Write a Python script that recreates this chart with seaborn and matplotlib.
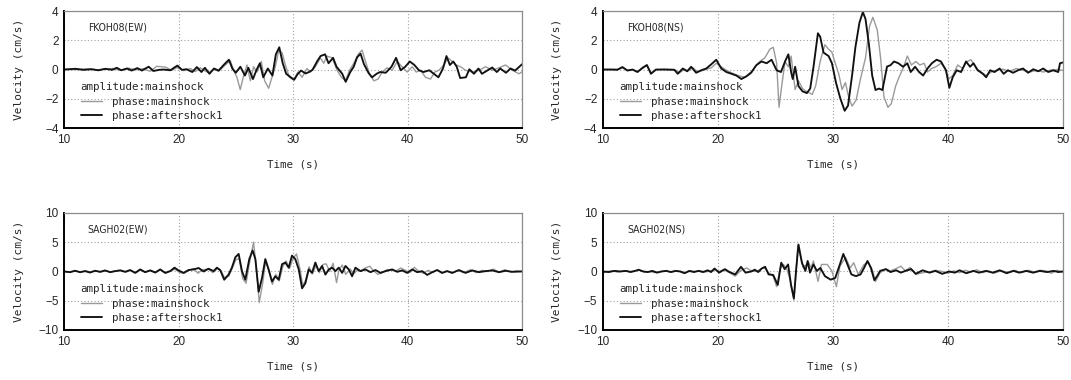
import matplotlib
matplotlib.use("Agg")
import matplotlib.pyplot as plt
from matplotlib.lines import Line2D
import pandas as pd
import seaborn as sns

# ---- FKOH08 (EW) ----
fk_ew_main_t = [10.0, 11.25, 12.13, 12.86, 13.59, 14.31, 14.9, 15.63, 16.21, 16.94,
                17.52, 18.1, 18.83, 19.42, 19.85, 20.44, 21.02, 21.46, 21.9, 22.27,
                22.62, 23.06, 23.5, 24.08, 24.52, 24.81, 25.1, 25.39, 25.69, 25.98,
                26.27, 26.56, 26.85, 27.23, 27.52, 27.87, 28.16, 28.45, 28.75, 29.04,
                29.33, 29.68, 30.06, 30.44, 30.79, 31.22, 31.52, 31.95, 32.39, 32.68,
                32.97, 33.41, 33.85, 34.23, 34.58, 34.93, 35.31, 35.69, 36.03, 36.33,
                36.68, 37.06, 37.43, 37.78, 38.22, 38.66, 39.1, 39.53, 39.97, 40.41,
                40.76, 41.14, 41.57, 42.01, 42.39, 42.74, 43.18, 43.53, 43.91, 44.26,
                44.64, 45.07, 45.66, 46.24, 46.82, 47.41, 47.99, 48.57, 49.15, 49.74,
                49.97]
fk_ew_main_v = [0, 0, 0.05, -0.02, 0.02, 0.07, -0.05, 0.1, -0.02, 0.05,
                -0.12, 0.22, 0.17, -0.05, 0.14, -0.07, 0.07, -0.14, 0.12, -0.07,
                -0.22, 0.02, -0.12, 0.31, 0.6, -0.05, -0.53, -1.37, -0.41, 0.31,
                -0.77, 0.19, -0.17, 0.55, -0.77, -1.28, -0.53, 0.19, 1.28, 1.16,
                0.31, -0.53, -0.7, -0.17, -0.53, 0.07, -0.17, 0.19, 0.8, 0.43,
                0.92, 0.8, -0.05, -0.53, -0.77, -0.05, 0.43, 1.04, 1.33, 0.55,
                -0.29, -0.77, -0.65, -0.17, 0.12, -0.05, 0.55, 0.19, -0.17, 0.19,
                -0.17, -0.05, -0.53, -0.65, -0.17, -0.05, 0.31, 0.8, 0.55, 0.31,
                0.19, -0.05, -0.17, -0.05, 0.19, -0.05, 0.12, 0.31, -0.05, -0.29,
                -0.17]
fk_ew_after_t = [10.0, 11.0, 11.7, 12.4, 13.0, 13.6, 14.2, 14.6, 15.0, 15.5,
                 15.9, 16.4, 16.8, 17.1, 17.4, 17.8, 18.3, 18.7, 19.3, 19.6,
                 19.9, 20.3, 20.7, 21.2, 21.6, 22.0, 22.3, 22.7, 23.1, 23.5,
                 24.0, 24.4, 24.7, 25.0, 25.4, 25.8, 26.1, 26.5, 26.8, 27.1,
                 27.4, 27.8, 28.2, 28.5, 28.8, 29.1, 29.4, 29.8, 30.1, 30.4,
                 30.7, 31.1, 31.4, 31.7, 32.1, 32.4, 32.8, 33.1, 33.5, 33.8,
                 34.3, 34.6, 35.0, 35.3, 35.6, 35.9, 36.2, 36.6, 36.9, 37.3,
                 37.6, 38.1, 38.6, 39.0, 39.4, 39.8, 40.2, 40.6, 41.0, 41.4,
                 41.9, 42.3, 42.7, 43.1, 43.4, 43.7, 44.0, 44.3, 44.6, 45.1,
                 45.4, 45.8, 46.2, 46.5, 47.0, 47.4, 47.8, 48.1, 48.6, 49.0,
                 49.4, 50.0]
fk_ew_after_v = [0, 0.05, -0.02, 0.02, -0.05, 0.05, -0.02, 0.12, -0.05, 0.07,
                 -0.07, 0.1, -0.07, 0.07, 0.19, -0.1, -0.02, 0, -0.05, 0.12,
                 0.27, -0.02, 0.02, -0.17, 0.17, -0.17, 0.12, -0.29, 0.07, -0.07,
                 0.36, 0.67, 0.07, -0.22, 0.19, -0.41, 0.12, -0.65, -0.05, 0.43,
                 -0.53, 0.07, -0.41, 1.04, 1.52, 0.43, -0.29, -0.53, -0.7, -0.31,
                 -0.07, -0.27, -0.17, -0.02, 0.55, 0.92, 1.04, 0.43, 0.8, 0.19,
                 -0.29, -0.84, -0.17, 0.19, 0.84, 1.08, 0.36, -0.24, -0.53, -0.29,
                 -0.17, -0.22, 0.19, 0.8, -0.05, 0.19, 0.55, 0.31, -0.05, -0.17,
                 -0.05, -0.29, -0.53, 0.07, 0.92, 0.31, 0.55, 0.19, -0.58, -0.53,
                 0.02, -0.29, 0.07, -0.29, -0.05, 0.14, -0.17, 0.07, -0.22, 0.07,
                 -0.07, 0.36]

# ---- FKOH08 (NS) ----
fk_ns_main_t = [10.0, 10.82, 11.25, 11.69, 12.13, 12.57, 13.0, 13.44, 13.82, 14.17,
                14.61, 15.34, 16.21, 16.65, 17.08, 17.38, 17.81, 18.25, 18.83, 19.42,
                19.85, 20.29, 20.73, 21.17, 21.75, 22.33, 22.86, 23.21, 23.64, 24.08,
                24.52, 24.81, 25.1, 25.31, 25.54, 25.83, 26.12, 26.36, 26.71, 27.0,
                27.35, 27.7, 28.2, 28.5, 28.9, 29.3, 29.6, 29.9, 30.2, 30.5,
                30.79, 31.08, 31.37, 31.66, 32.01, 32.39, 32.83, 33.18, 33.47, 33.85,
                34.14, 34.43, 34.78, 35.07, 35.45, 35.74, 36.09, 36.47, 36.82, 37.2,
                37.55, 37.93, 38.22, 38.57, 38.95, 39.39, 39.74, 40.06, 40.41, 40.85,
                41.28, 41.66, 42.01, 42.45, 42.89, 43.32, 43.76, 44.2, 44.78, 45.36,
                45.95, 46.53, 47.11, 47.7, 48.28, 48.86, 49.45, 49.97]
fk_ns_main_v = [0, 0, 0.02, 0.12, -0.05, -0.02, -0.12, 0.07, 0.27, -0.24,
                -0.02, 0.02, 0, -0.22, 0.02, -0.1, 0.12, -0.17, -0.02, 0.12,
                0.43, 0.19, -0.05, -0.22, -0.41, -0.53, -0.29, 0.19, 0.55, 0.8,
                1.4, 1.52, 0.43, -2.58, -1.13, 0.55, 0.19, 0.92, -1.37, -0.77,
                -1.3, -1.5, -1.7, -1.1, 0.6, 1.7, 1.4, 1.2, 0.43, -0.29,
                -1.37, -0.89, -1.9, -2.5, -2.1, -0.65, 0.8, 2.96, 3.57, 2.72,
                0.8, -1.86, -2.58, -2.34, -1.13, -0.53, 0.07, 0.92, 0.31, 0.55,
                0.31, 0.43, -0.17, 0.07, 0.19, 0.43, 0.07, -0.65, -0.41, 0.31,
                0.07, 0.55, 0.67, 0.07, -0.17, -0.41, -0.17, -0.05, 0.02, -0.12,
                0.07, -0.05, -0.17, -0.05, -0.17, -0.05, 0, -0.05]
fk_ns_after_t = [10.0, 10.82, 11.25, 11.69, 12.13, 12.57, 13.0, 13.44, 13.82, 14.17,
                 14.61, 15.34, 16.21, 16.5, 16.94, 17.32, 17.67, 18.1, 18.54, 18.98,
                 19.42, 19.85, 20.29, 20.73, 21.17, 21.6, 22.04, 22.48, 22.92, 23.35,
                 23.79, 24.23, 24.66, 25.1, 25.48, 25.83, 26.12, 26.36, 26.5, 26.71,
                 27.0, 27.35, 27.73, 28.02, 28.31, 28.69, 28.89, 29.18, 29.62, 29.91,
                 30.26, 30.64, 31.02, 31.31, 31.66, 31.95, 32.3, 32.6, 32.83, 33.12,
                 33.41, 33.7, 34.0, 34.3, 34.7, 35.01, 35.31, 35.69, 36.09, 36.47,
                 36.76, 37.14, 37.49, 37.84, 38.22, 38.6, 39.01, 39.39, 39.83, 40.12,
                 40.41, 40.76, 41.14, 41.57, 41.92, 42.22, 42.59, 43.03, 43.32, 43.67,
                 44.05, 44.49, 44.84, 45.22, 45.66, 46.09, 46.53, 46.97, 47.41, 47.84,
                 48.28, 48.72, 49.15, 49.59, 49.74, 49.97]
fk_ns_after_v = [0, 0, -0.02, 0.17, -0.07, 0, -0.17, 0.12, 0.31, -0.29,
                 0, 0, -0.02, -0.29, 0.07, -0.12, 0.19, -0.22, -0.05, 0.07,
                 0.36, 0.67, 0.07, -0.17, -0.29, -0.41, -0.65, -0.46, -0.17, 0.31,
                 0.55, 0.43, 0.67, -0.05, -0.17, 0.55, 1.04, -0.17, -0.65, 0.19,
                 -1.13, -1.49, -1.61, -1.3, 0.2, 2.48, 2.24, 1.16, 0.92, 0.43,
                 -0.89, -1.98, -2.82, -2.46, -0.41, 1.52, 3.2, 3.93, 3.45, 1.76,
                 -0.41, -1.4, -1.3, -1.4, 0.2, 0.3, 0.55, 0.43, 0.19, 0.43,
                 -0.17, 0.19, -0.17, -0.41, 0.07, 0.43, 0.67, 0.55, -0.05, -1.25,
                 -0.53, -0.05, -0.17, 0.55, 0.19, 0.43, -0.05, -0.29, -0.53, -0.05,
                 -0.17, 0.07, -0.29, -0.05, -0.22, -0.05, 0.07, -0.22, 0.02, -0.12,
                 0.07, -0.17, -0.05, -0.17, 0.43, 0.48]

# ---- SAGH02 (EW) ----
sa_ew_main_t = [10.0, 10.5, 11.0, 11.4, 11.9, 12.3, 12.7, 13.2, 13.6, 14.1,
                14.5, 15.0, 15.4, 15.8, 16.3, 16.7, 17.1, 17.6, 18.0, 18.4,
                18.9, 19.3, 19.7, 20.1, 20.5, 20.9, 21.3, 21.7, 22.1, 22.6,
                23.0, 23.4, 23.7, 24.0, 24.4, 24.7, 25.0, 25.3, 25.6, 25.9,
                26.2, 26.55, 26.75, 27.05, 27.35, 27.6, 27.9, 28.2, 28.5, 28.8,
                29.1, 29.4, 29.7, 30.0, 30.3, 30.6, 30.85, 31.1, 31.4, 31.7,
                32.0, 32.3, 32.6, 32.9, 33.2, 33.5, 33.8, 34.0, 34.3, 34.6,
                35.0, 35.3, 35.6, 35.9, 36.3, 36.7, 37.0, 37.4, 37.8, 38.2,
                38.6, 39.0, 39.4, 39.8, 40.2, 40.6, 41.0, 41.4, 41.8, 42.2,
                42.6, 43.0, 43.4, 43.9, 44.4, 44.9, 45.5, 46.0, 46.5, 47.0,
                47.5, 48.0, 48.5, 49.0, 49.5, 50.0]
sa_ew_main_v = [0, -0.1, 0.1, -0.1, 0.1, -0.1, 0.1, -0.1, 0.1, -0.1,
                0.1, 0.2, -0.1, 0.2, -0.2, 0.3, -0.1, 0.2, -0.2, 0.3,
                -0.3, 0.1, 0.4, -0.2, -0.3, 0.2, 0.5, -0.3, 0.3, 0.4,
                -0.2, 0.5, 0.1, -1.0, -0.8, 0.6, 2.0, 2.2, -1.2, -2.0,
                1.5, 5.0, 1.5, -5.3, -2.0, 1.8, 0.0, -2.2, -0.5, -1.6,
                0.8, 1.8, 0.5, 2.2, 3.0, 0.5, -2.4, -1.5, 0.8, -0.4,
                1.0, -0.2, 1.2, 1.3, 0.0, 1.4, -1.9, 0.2, 1.1, -0.5,
                0.4, -0.4, 0.2, 0.1, 0.6, 0.9, 0.2, -0.5, -0.2, 0.3,
                0.2, 0.1, 0.6, 0.2, -0.2, 0.7, 0.0, -0.3, 0.2, -0.2,
                0.3, -0.3, 0.1, -0.3, 0.2, -0.2, 0.3, -0.2, 0.2, 0.0,
                0.4, -0.1, 0.3, -0.1, 0.1, 0.0]
sa_ew_after_t = [10.0, 10.52, 10.96, 11.4, 11.84, 12.27, 12.71, 13.15, 13.59, 14.02,
                 14.46, 14.9, 15.34, 15.77, 16.21, 16.65, 17.08, 17.52, 17.96, 18.4,
                 18.83, 19.27, 19.65, 20.0, 20.44, 20.87, 21.31, 21.75, 22.19, 22.62,
                 23.06, 23.35, 23.64, 23.99, 24.37, 24.66, 24.96, 25.25, 25.54, 25.83,
                 26.18, 26.47, 26.71, 27.0, 27.29, 27.58, 27.87, 28.16, 28.45, 28.75,
                 29.04, 29.33, 29.62, 29.91, 30.2, 30.5, 30.79, 31.08, 31.37, 31.66,
                 31.95, 32.24, 32.54, 32.83, 33.12, 33.41, 33.7, 33.99, 34.29, 34.58,
                 34.87, 35.16, 35.45, 35.89, 36.33, 36.76, 37.2, 37.64, 38.08, 38.66,
                 39.1, 39.53, 39.97, 40.41, 40.85, 41.28, 41.72, 42.16, 42.59, 43.03,
                 43.47, 43.91, 44.49, 45.07, 45.66, 46.24, 46.82, 47.41, 47.99, 48.57,
                 49.15, 49.97]
sa_ew_after_v = [0, -0.12, 0.12, -0.12, 0.06, -0.18, 0.12, -0.06, 0.18, -0.12,
                 0.06, 0.18, -0.06, 0.24, -0.24, 0.35, -0.12, 0.18, -0.18, 0.35,
                 -0.24, 0.06, 0.65, 0.18, -0.24, 0.24, 0.35, 0.59, 0, 0.47,
                 0.06, 0.65, 0.24, -1.41, -0.53, 0.65, 2.41, 3.0, 0.06, -1.41,
                 2.12, 3.59, 2.12, -3.47, -1.12, 2.12, 0.35, -1.71, -0.82, -1.41,
                 1.24, 1.53, 0.65, 2.71, 2.12, 0.35, -2.88, -2.0, 0.35, -0.24,
                 1.53, 0.06, 0.94, -0.53, 0.35, 0.65, 0.06, 0.65, -0.24, 0.94,
                 0.35, -0.82, 0.65, 0.06, 0.35, -0.12, 0.24, -0.24, 0.06, 0.35,
                 -0.06, 0.18, -0.24, 0.35, -0.12, 0.06, -0.59, -0.12, 0.24, -0.24,
                 0.06, -0.24, 0.24, -0.24, 0.18, -0.12, 0.06, 0.18, -0.12, 0.12,
                 -0.06, 0]

# ---- SAGH02 (NS) ----
sa_ns_main_t = [10.0, 10.3, 10.8, 11.3, 11.8, 12.3, 12.8, 13.2, 13.6, 14.1,
                14.5, 15.0, 15.5, 16.0, 16.4, 16.8, 17.2, 17.6, 18.0, 18.5,
                18.9, 19.3, 19.7, 20.1, 20.5, 21.0, 21.5, 22.0, 22.5, 22.9,
                23.3, 23.7, 24.0, 24.4, 24.8, 25.1, 25.4, 25.7, 26.0, 26.3,
                26.6, 26.8, 26.95, 27.4, 27.9, 28.1, 28.3, 28.7, 29.0, 29.5,
                29.9, 30.3, 30.6, 31.1, 31.5, 31.8, 32.2, 32.7, 33.1, 33.4,
                33.7, 34.1, 34.6, 35.0, 35.5, 35.9, 36.3, 36.7, 37.2, 37.8,
                38.4, 38.9, 39.5, 40.0, 40.5, 41.0, 41.5, 42.0, 42.5, 43.0,
                43.5, 44.0, 44.6, 45.2, 45.8, 46.4, 47.0, 47.5, 48.0, 48.5,
                49.0, 49.5, 50.0]
sa_ns_main_v = [-0.3, 0.0, 0.1, -0.1, 0.1, 0.0, 0.1, 0.2, -0.1, 0.0,
                -0.2, 0.0, 0.1, -0.1, 0.1, 0.0, -0.2, 0.1, 0.0, 0.1,
                -0.1, 0.1, 0.3, 0.0, 0.3, -0.2, -0.8, 0.2, 0.6, 0.1,
                0.0, 0.4, 0.7, -0.2, -0.8, -2.6, 0.5, 1.2, 0.3, -1.5,
                -4.9, 0.0, 4.5, 0.7, 1.5, 0.6, 1.8, -1.7, 1.2, 1.2,
                0.1, -2.6, 0.9, 2.4, 0.6, 1.5, -0.5, 1.2, 1.5, 0.4,
                -1.7, -0.2, 0.4, 0.1, 0.5, 0.9, 0.1, 0.7, -0.5, -0.2,
                -0.1, 0.2, 0.0, -0.3, 0.1, -0.2, 0.2, -0.1, 0.3, -0.2,
                0.1, -0.3, 0.1, -0.1, 0.2, -0.2, 0.2, -0.1, 0.2, 0.1,
                -0.3, 0.2, -0.1]
sa_ns_after_t = [10.0, 10.5, 11.0, 11.5, 12.0, 12.4, 12.8, 13.1, 13.5, 13.9,
                 14.3, 14.7, 15.1, 15.5, 15.9, 16.3, 16.7, 17.1, 17.5, 17.9,
                 18.3, 18.7, 19.1, 19.4, 19.7, 20.1, 20.6, 21.0, 21.5, 22.0,
                 22.4, 22.9, 23.2, 23.5, 23.8, 24.1, 24.4, 24.8, 25.2, 25.5,
                 25.8, 26.1, 26.35, 26.6, 26.8, 27.0, 27.3, 27.6, 27.8, 28.0,
                 28.3, 28.6, 28.9, 29.3, 29.8, 30.2, 30.6, 30.9, 31.2, 31.6,
                 32.0, 32.4, 32.7, 33.0, 33.3, 33.6, 33.9, 34.1, 34.6, 35.0,
                 35.5, 35.9, 36.3, 36.8, 37.2, 37.8, 38.4, 38.9, 39.5, 40.1,
                 40.6, 41.0, 41.6, 42.2, 42.7, 43.3, 43.9, 44.5, 45.1, 45.7,
                 46.2, 46.8, 47.4, 48.0, 48.6, 49.2, 49.6, 50.0]
sa_ns_after_v = [0, -0.1, 0.1, 0.0, 0.1, -0.1, 0.1, 0.3, 0.0, -0.1,
                 0.1, -0.2, 0.0, 0.1, -0.1, 0.1, 0.0, -0.3, 0.1, -0.1,
                 0.1, -0.1, 0.2, -0.1, 0.5, -0.2, 0.4, -0.1, -0.5, 0.8,
                 -0.2, 0.0, 0.3, -0.1, 0.5, 0.8, -0.5, -0.6, -2.3, 1.5,
                 0.4, 1.2, -2.3, -4.6, 0.4, 4.6, 1.5, 0.1, 1.8, -0.2,
                 1.2, 0.1, 0.6, -0.8, -1.4, -1.1, 1.2, 3.0, 1.5, -0.5,
                 -0.8, -0.5, 0.6, 1.8, 0.6, -1.5, -0.6, 0.1, 0.4, -0.1,
                 0.2, -0.2, 0.1, 0.4, -0.4, 0.2, -0.2, 0.1, -0.4, 0.0,
                 -0.2, 0.2, -0.3, 0.1, -0.2, 0.1, -0.2, 0.2, -0.3, 0.1,
                 -0.2, 0.1, -0.2, 0.1, -0.1, 0.1, -0.1, 0.0]

station_labels = ["FKOH08(EW)", "FKOH08(NS)", "SAGH02(EW)", "SAGH02(NS)"]
y_limits = [(-4, 4), (-4, 4), (-10, 10), (-10, 10)]
y_ticks = [[-4, -2, 0, 2, 4], [-4, -2, 0, 2, 4], [-10, -5, 0, 5, 10], [-10, -5, 0, 5, 10]]
x_ticks = [10, 20, 30, 40, 50]
series_names = ["phase:mainshock", "phase:aftershock1"]
legend_title = "amplitude:mainshock"

panels = [
    (fk_ew_main_t, fk_ew_main_v, fk_ew_after_t, fk_ew_after_v),
    (fk_ns_main_t, fk_ns_main_v, fk_ns_after_t, fk_ns_after_v),
    (sa_ew_main_t, sa_ew_main_v, sa_ew_after_t, sa_ew_after_v),
    (sa_ns_main_t, sa_ns_main_v, sa_ns_after_t, sa_ns_after_v),
]

sns.set_style("white")
plt.rcParams["font.family"] = ["DejaVu Sans Mono", "DejaVu Sans"]

GRAY = "#9a9a9a"
BLACK = "#111111"
palette = {series_names[0]: GRAY, series_names[1]: BLACK}
widths = {series_names[0]: 1.0, series_names[1]: 1.35}

fig = plt.figure(figsize=(10.71, 3.80), dpi=100)
rects = [
    [0.0598, 0.663, 0.4276, 0.308],
    [0.5630, 0.663, 0.4295, 0.308],
    [0.0598, 0.1316, 0.4276, 0.308],
    [0.5630, 0.1316, 0.4295, 0.308],
]

for i, (mt, mv, at, av) in enumerate(panels):
    ax = fig.add_axes(rects[i])
    df = pd.concat([
        pd.DataFrame({"t": mt, "v": mv, "s": series_names[0]}),
        pd.DataFrame({"t": at, "v": av, "s": series_names[1]}),
    ], ignore_index=True)
    for name in series_names:
        sub = df[df["s"] == name]
        sns.lineplot(data=sub, x="t", y="v", ax=ax, color=palette[name],
                     linewidth=widths[name], sort=False, estimator=None,
                     legend=False)

    ax.set_xlim(10, 50)
    ax.set_ylim(*y_limits[i])
    ax.set_xticks(x_ticks)
    ax.set_yticks(y_ticks[i])
    ax.set_xticklabels([str(v) for v in x_ticks], fontfamily="Liberation Sans", fontsize=8.5)
    ax.set_yticklabels(["\u2212" + str(-v) if v < 0 else str(v) for v in y_ticks[i]],
                       fontfamily="Liberation Sans", fontsize=8.5)
    ax.tick_params(length=0, pad=4)
    ax.grid(True, color="#a0a0a0", linestyle=(0, (1, 2)), linewidth=0.8)
    ax.set_axisbelow(True)
    for side in ("top", "right"):
        ax.spines[side].set_color("#8c8c8c")
        ax.spines[side].set_linewidth(0.9)
    for side in ("left", "bottom"):
        ax.spines[side].set_color("black")
        ax.spines[side].set_linewidth(1.4)

    ax.set_xlabel("Time (s)", fontsize=7.8, labelpad=10)
    ax.set_ylabel("Velocity (cm/s)", fontsize=8)
    ax.yaxis.set_label_coords(-0.088, 0.5)

    ax.text(0.052, 0.86, station_labels[i], transform=ax.transAxes,
            fontsize=7.5, family="DejaVu Sans", stretch="condensed",
            va="center", ha="left")

    handles = [Line2D([], [], color=palette[n], linewidth=widths[n]) for n in series_names]
    ax.legend(handles, series_names, title=legend_title, loc="lower left",
              bbox_to_anchor=(0.022, 0.004), frameon=False, fontsize=7.8,
              title_fontsize=7.8, handlelength=2.0, handletextpad=0.9,
              labelspacing=0.4, borderaxespad=0.2, alignment="left")

fig.savefig("out.png", dpi=100)
